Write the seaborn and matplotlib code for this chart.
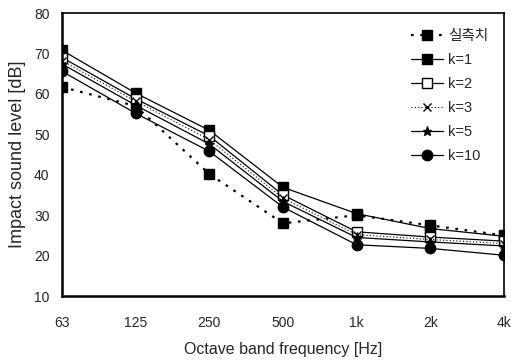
import matplotlib
matplotlib.use("Agg")
import matplotlib.pyplot as plt
import seaborn as sns
import numpy as np
import pandas as pd

freqs = ["63", "125", "250", "500", "1k", "2k", "4k"]
measured = [61.7, 57.0, 40.2, 28.0, 30.0, 27.5, 25.0]
k1 = [70.8, 60.2, 51.0, 36.9, 30.4, 26.7, 24.8]
k2 = [69.0, 58.8, 49.6, 35.0, 25.9, 24.6, 23.6]
k3 = [68.2, 58.2, 48.7, 34.2, 25.2, 24.0, 23.0]
k5 = [67.4, 57.2, 47.6, 33.4, 24.5, 23.4, 22.4]
k10 = [65.6, 55.2, 45.8, 32.0, 22.7, 21.8, 20.1]

sns.set_style("white")
plt.rcParams['font.family'] = ['Liberation Sans', 'Noto Sans CJK KR', 'DejaVu Sans']

fig = plt.figure(figsize=(5.14, 3.62), dpi=100)
ax = fig.add_axes([0.1206, 0.182, 0.8599, 0.782])

xs = list(range(len(freqs)))
series = [
    ("실측치", measured, dict(marker="s", linestyle=(0, (1.2, 3)), linewidth=1.6, markerfacecolor="black", markersize=7.5)),
    ("k=1", k1, dict(marker="s", linestyle="-", linewidth=0.9, markerfacecolor="black", markersize=7.5)),
    ("k=2", k2, dict(marker="s", linestyle="-", linewidth=0.9, markerfacecolor="white", markersize=7.5)),
    ("k=3", k3, dict(marker="x", linestyle=(0, (1, 2)), linewidth=0.8, markerfacecolor="black", markersize=5.5)),
    ("k=5", k5, dict(marker="*", linestyle="-", linewidth=0.9, markerfacecolor="black", markersize=6.5)),
    ("k=10", k10, dict(marker="o", linestyle="-", linewidth=0.9, markerfacecolor="black", markersize=7.5)),
]
for name, vals, kw in series:
    sns.lineplot(x=xs, y=vals, ax=ax, color="black", markeredgecolor="black",
                 markeredgewidth=1.0, label=name, **kw)

ax.set_xlim(0, 6)
ax.set_ylim(10, 80)
ax.set_xticks(xs)
ax.set_xticklabels(freqs)
ax.set_yticks(range(10, 81, 10))
ax.tick_params(axis="x", length=0, labelsize=10, pad=14)
ax.tick_params(axis="y", length=0, labelsize=10, pad=9)
ax.set_xlabel("Octave band frequency [Hz]", fontsize=11.5, labelpad=9)
ax.set_ylabel("Impact sound level [dB]", fontsize=13, labelpad=6)
for side in ["left", "bottom"]:
    ax.spines[side].set_linewidth(1.8)
    ax.spines[side].set_color("black")
for side in ["top", "right"]:
    ax.spines[side].set_linewidth(1.2)
    ax.spines[side].set_color("black")

leg = ax.legend(loc="upper right", frameon=False, fontsize=10.5, handlelength=2.2,
                labelspacing=0.68, borderaxespad=0.7, handletextpad=0.3)

fig.savefig("out.png", dpi=100)
